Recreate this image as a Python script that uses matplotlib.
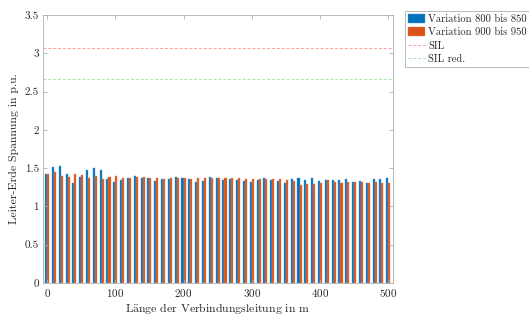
import numpy as np
import matplotlib
matplotlib.use("Agg")
import matplotlib.pyplot as plt
from matplotlib.ticker import FuncFormatter

plt.rcParams["font.family"] = ["cmr10", "DejaVu Serif"]
plt.rcParams["axes.formatter.use_mathtext"] = True
plt.rcParams["mathtext.fontset"] = "cm"

# Line length in m (one group every 10 m)
laenge = np.arange(0, 501, 10)

# Peak phase-to-earth voltage in p.u.
var_800_850 = [1.43, 1.515, 1.53, 1.42, 1.305, 1.38, 1.48, 1.505, 1.475, 1.36,
               1.32, 1.345, 1.375, 1.395, 1.375, 1.365, 1.335, 1.355, 1.355, 1.385,
               1.37, 1.36, 1.325, 1.335, 1.38, 1.37, 1.34, 1.355, 1.35, 1.335,
               1.325, 1.345, 1.37, 1.34, 1.335, 1.31, 1.355, 1.37, 1.34, 1.37,
               1.33, 1.34, 1.345, 1.345, 1.355, 1.325, 1.335, 1.305, 1.36, 1.36,
               1.375]
var_900_950 = [1.43, 1.455, 1.40, 1.385, 1.42, 1.405, 1.375, 1.40, 1.36, 1.385,
               1.395, 1.37, 1.365, 1.385, 1.385, 1.37, 1.375, 1.36, 1.37, 1.37,
               1.365, 1.36, 1.365, 1.37, 1.375, 1.365, 1.365, 1.37, 1.37, 1.36,
               1.36, 1.36, 1.36, 1.355, 1.355, 1.35, 1.335, 1.285, 1.295, 1.295,
               1.305, 1.345, 1.325, 1.30, 1.325, 1.325, 1.325, 1.30, 1.32, 1.31,
               1.30]

sil = 3.07
sil_red = 2.665

blau = "#0072BD"
orange = "#D95319"

fig = plt.figure(figsize=(5.29, 3.20), dpi=100)
ax = fig.add_axes([43 / 529, 37 / 320, 350 / 529, 268 / 320])

w = 3.0
b1 = ax.bar(laenge - w / 2, var_800_850, width=w, color=blau,
            edgecolor="#4a9ad4", linewidth=0.3, label="Variation 800 bis 850")
b2 = ax.bar(laenge + w / 2, var_900_950, width=w, color=orange,
            edgecolor="#e8845a", linewidth=0.3, label="Variation 900 bis 950")
l1 = ax.axhline(sil, color="#ff9c9c", linestyle=(0, (3, 2)), linewidth=0.7, label="SIL")
l2 = ax.axhline(sil_red, color="#a8e8a8", linestyle=(0, (3, 2)), linewidth=0.7, label="SIL red.")

ax.set_xlim(-6, 507)
ax.set_ylim(0, 3.5)
ax.set_xticks(np.arange(0, 501, 100))
ax.set_yticks(np.arange(0, 3.51, 0.5))
ax.yaxis.set_major_formatter(FuncFormatter(lambda v, p: f"{v:g}"))

for s in ax.spines.values():
    s.set_color("#b0b0b0")
    s.set_linewidth(0.6)
ax.tick_params(direction="in", length=3, width=0.6, color="#b0b0b0",
               labelsize=8, labelcolor="#262626", top=True, right=True, pad=3)

ax.set_xlabel(r"L$\mathrm{\ddot{a}}$nge der Verbindungsleitung in m", fontsize=8.5,
              color="#262626", labelpad=1)
ax.set_ylabel("Leiter-Erde Spannung in p.u.", fontsize=8.5, color="#262626", labelpad=4)

leg = fig.legend(handles=[b1, b2, l1, l2], loc="upper left",
                 bbox_to_anchor=(405 / 529, 1 - 11 / 320), fontsize=7.6,
                 frameon=True, fancybox=False, framealpha=1, edgecolor="#b0b0b0",
                 handlelength=1.6, handleheight=0.9, handletextpad=0.3,
                 borderpad=0.3, labelspacing=0.3, borderaxespad=0)
leg.get_frame().set_linewidth(0.6)
for t in leg.get_texts():
    t.set_color("#262626")

fig.savefig("out.png", dpi=100)
